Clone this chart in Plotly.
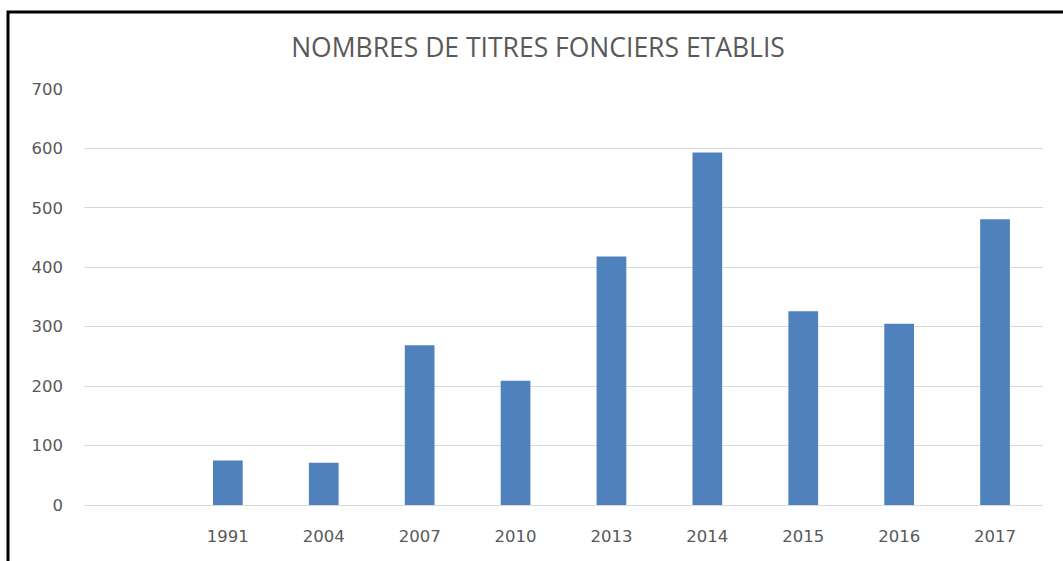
import plotly.graph_objects as go

# Data: number of land titles established per year (first slot is an empty category)
years = [" ", "1991", "2004", "2007", "2010", "2013", "2014", "2015", "2016", "2017"]
titles = [None, 75, 71, 269, 209, 418, 593, 326, 305, 481]
y_ticks = [0, 100, 200, 300, 400, 500, 600, 700]

W, H = 1063, 561
L, R, T, B = 84, 20, 89, 56
plot_w = W - L - R
plot_h = H - T - B


def px_x(px):
    return (px - L) / plot_w


def px_y(py):
    return (H - B - py) / plot_h


fig = go.Figure(
    go.Bar(
        x=years,
        y=titles,
        marker=dict(color="#4F81BD", line=dict(width=0)),
        width=0.31,
        hoverinfo="x+y",
    )
)

tick_font = dict(family="DejaVu Sans", size=16.5, color="#595959")

fig.update_layout(
    width=W,
    height=H,
    margin=dict(l=L, r=R, t=T, b=B, pad=0),
    paper_bgcolor="white",
    plot_bgcolor="white",
    showlegend=False,
    title=dict(
        text="NOMBRES DE TITRES FONCIERS ETABLIS",
        x=px_x(538),
        xref="paper",
        xanchor="center",
        y=1 - 48 / H,
        yref="container",
        yanchor="middle",
        font=dict(family="Open Sans", size=26.5, color="#595959"),
    ),
    font=tick_font,
)

fig.update_xaxes(
    type="category",
    categoryorder="array",
    categoryarray=years,
    showgrid=False,
    showline=True,
    linecolor="#D9D9D9",
    linewidth=1,
    ticks="",
    ticklabelstandoff=16,
    tickfont=tick_font,
    fixedrange=True,
)

fig.update_yaxes(
    range=[0, 700],
    tickvals=y_ticks,
    showgrid=True,
    gridcolor="#D9D9D9",
    gridwidth=1,
    zeroline=False,
    showline=False,
    ticks="",
    ticklabelstandoff=20,
    tickfont=tick_font,
    fixedrange=True,
)

# Black frame around the chart area (top and left edges visible)
fig.add_shape(
    type="rect",
    xref="paper",
    yref="paper",
    x0=px_x(8),
    x1=px_x(1075),
    y0=px_y(575),
    y1=px_y(12),
    line=dict(color="black", width=3),
    fillcolor="rgba(0,0,0,0)",
    layer="above",
)

fig.write_html("out.html")
